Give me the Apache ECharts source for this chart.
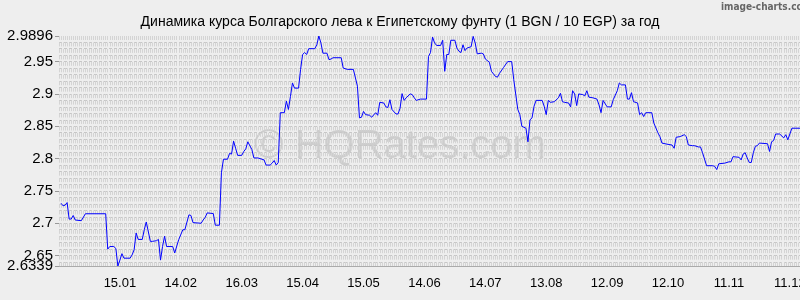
<!DOCTYPE html>
<html>
<head>
<meta charset="utf-8">
<script src="https://cdn.jsdelivr.net/npm/echarts@6/dist/echarts.min.js"></script>
<style>
html,body{margin:0;padding:0;background:#eeeeee;}
#chart{width:800px;height:300px;}
</style>
</head>
<body>
<div id="chart"></div>
<script>
// Day offsets from 16.12 (day 0) and BGN/EGP rate values
const days = [1,2,3,4,5,6,7,8,11,13,23,24,25,27,28,29,30,31,32,35,36,37,38,39,41,42,43,45,46,48,49,50,51,52,53,56,57,59,61,62,64,65,66,70,71,72,73,76,77,79,80,81,83,84,85,86,87,88,90,91,92,93,95,96,98,101,102,104,105,106,107,108,109,111,112,113,114,115,116,118,119,120,121,122,123,126,127,128,129,130,132,133,134,135,139,140,142,145,147,148,149,150,151,153,154,156,157,158,160,161,162,163,164,166,167,168,169,170,171,173,174,175,176,178,181,182,183,184,185,186,188,189,190,191,192,193,195,196,197,198,199,200,201,203,204,205,206,208,209,210,212,213,215,216,217,219,221,223,224,226,227,228,230,231,232,233,234,235,238,239,240,241,242,244,246,247,248,249,251,252,253,254,255,256,258,259,260,261,263,265,266,267,268,270,272,273,275,276,277,279,280,281,282,283,285,286,287,288,289,292,293,295,296,297,300,302,303,304,306,308,309,310,312,313,315,316,317,319,322,323,324,325,328,330,331,332,335,336,337,338,339,340,341,342,343,344,345,349,350,351,352,353,355,357,358,359,361,365];
const rates = [2.731,2.727,2.728,2.732,2.7065,2.7065,2.712,2.705,2.704,2.7147,2.7147,2.660,2.664,2.664,2.661,2.6339,2.643,2.653,2.646,2.646,2.651,2.659,2.685,2.675,2.675,2.690,2.702,2.672,2.672,2.673,2.675,2.643,2.664,2.680,2.664,2.664,2.654,2.675,2.690,2.690,2.713,2.712,2.701,2.700,2.705,2.709,2.716,2.715,2.697,2.697,2.778,2.799,2.799,2.808,2.807,2.827,2.816,2.805,2.805,2.811,2.815,2.826,2.814,2.801,2.801,2.798,2.790,2.790,2.793,2.797,2.790,2.794,2.871,2.871,2.889,2.876,2.896,2.917,2.909,2.909,2.938,2.961,2.964,2.961,2.970,2.970,2.976,2.9896,2.979,2.963,2.963,2.953,2.954,2.956,2.956,2.940,2.938,2.938,2.912,2.863,2.864,2.873,2.868,2.867,2.864,2.871,2.867,2.887,2.886,2.880,2.879,2.891,2.876,2.869,2.869,2.878,2.9005,2.890,2.894,2.900,2.899,2.894,2.890,2.892,2.892,2.958,2.964,2.988,2.979,2.975,2.975,2.983,2.935,2.961,2.961,2.983,2.983,2.971,2.966,2.964,2.976,2.967,2.971,2.973,2.989,2.979,2.962,2.963,2.962,2.954,2.949,2.935,2.927,2.926,2.932,2.941,2.950,2.950,2.922,2.876,2.868,2.850,2.847,2.826,2.860,2.863,2.881,2.890,2.890,2.881,2.868,2.890,2.887,2.888,2.894,2.901,2.888,2.887,2.886,2.880,2.905,2.900,2.882,2.900,2.899,2.897,2.905,2.895,2.894,2.892,2.883,2.871,2.890,2.880,2.880,2.891,2.905,2.917,2.914,2.914,2.892,2.892,2.902,2.888,2.886,2.868,2.871,2.865,2.871,2.871,2.855,2.840,2.834,2.824,2.822,2.821,2.816,2.833,2.834,2.837,2.834,2.821,2.820,2.820,2.818,2.818,2.809,2.789,2.789,2.788,2.783,2.792,2.793,2.795,2.795,2.803,2.802,2.798,2.807,2.809,2.801,2.794,2.794,2.809,2.819,2.820,2.824,2.823,2.811,2.826,2.828,2.838,2.838,2.832,2.837,2.829,2.847,2.847];

// X tick labels, one every 30 days starting at day 0
const xTickLabels = ['16.12','15.01','14.02','16.03','15.04','15.05','14.06','14.07','13.08','12.09','12.10','11.11','11.12'];
// Y tick labels (regular ticks and the range minimum, which sits close to 2.65)
const yTickValues = [2.65, 2.7, 2.75, 2.8, 2.85, 2.9, 2.95, 2.9896];
const yTickLabels = ['2.65','2.7','2.75','2.8','2.85','2.9','2.95','2.9896'];
const yMinTickValues = [2.6339];
const yMinTickLabels = ['2.6339'];
// Horizontal grid lines (every 0.01)
const yGridValues = [2.64,2.65,2.66,2.67,2.68,2.69,2.70,2.71,2.72,2.73,2.74,2.75,2.76,2.77,2.78,2.79,2.80,2.81,2.82,2.83,2.84,2.85,2.86,2.87,2.88,2.89,2.90,2.91,2.92,2.93,2.94,2.95,2.96,2.97,2.98];

const Y_MIN = 2.6339, Y_MAX = 2.9896;
const FONT = 'Liberation Sans, Arial, sans-serif';

function labelAxis(values, labels) {
  return {
    type: 'value', min: Y_MIN, max: Y_MAX, position: 'left',
    axisLine: {show: false},
    axisTick: {show: true, length: 4, customValues: values, lineStyle: {color: '#999'}},
    axisLabel: {
      customValues: values, margin: 6, showMinLabel: true, showMaxLabel: true, hideOverlap: false,
      fontFamily: FONT, fontSize: 15, color: '#000',
      formatter: v => labels[values.indexOf(v)] || String(v)
    },
    splitLine: {show: false}
  };
}

const chart = echarts.init(document.getElementById('chart'), null, {renderer: 'canvas'});
const gridLine = {color: '#d4d4d4', width: 1, type: [4, 2.46]};
chart.setOption({
  backgroundColor: '#eeeeee',
  animation: false,
  title: {
    text: 'Динамика курса Болгарского лева к Египетскому фунту (1 BGN / 10 EGP) за год',
    left: 'center',
    top: 10,
    textStyle: {fontFamily: FONT, fontSize: 14, fontWeight: 'normal', color: '#000'}
  },
  graphic: [
    {type: 'text', left: 721, top: 2, z: 100,
     style: {text: 'image-charts.com', fontFamily: 'DejaVu Sans Condensed', fontSize: 10, fontWeight: 'bold', fill: '#666'}},
    {type: 'text', left: 'center', top: 127, z: 0,
     style: {text: '© HQRates.com', fontFamily: FONT, fontSize: 40, fill: 'rgba(130,130,130,0.3)'}}
  ],
  grid: {left: 59, right: 0, top: 36, bottom: 34, containLabel: false, outerBoundsMode: 'none'},
  xAxis: {
    type: 'value', min: 0, max: 365, interval: 30,
    axisLine: {show: true, lineStyle: {color: '#aaaaaa'}},
    axisTick: {show: false},
    axisLabel: {
      showMinLabel: false, showMaxLabel: false, margin: 11, hideOverlap: false,
      fontFamily: FONT, fontSize: 13, color: '#000',
      formatter: v => xTickLabels[Math.round(v / 30)] || ''
    },
    splitLine: {show: true, lineStyle: gridLine},
    minorTick: {show: false, splitNumber: 30},
    minorSplitLine: {show: true, lineStyle: gridLine}
  },
  yAxis: [
    labelAxis(yTickValues, yTickLabels),
    labelAxis(yMinTickValues, yMinTickLabels),
    {
      type: 'value', min: Y_MIN, max: Y_MAX, position: 'left',
      axisLine: {show: false},
      axisTick: {show: false, customValues: yGridValues},
      axisLabel: {show: false},
      splitLine: {show: true, lineStyle: {color: '#c6c6c6', width: 1, type: [3, 2]}}
    }
  ],
  series: [{
    type: 'line',
    yAxisIndex: 0,
    data: days.map((d, i) => [d, rates[i]]),
    showSymbol: false,
    symbol: 'none',
    lineStyle: {color: '#0000ff', width: 1},
    z: 5
  }]
});
</script>
</body>
</html>
